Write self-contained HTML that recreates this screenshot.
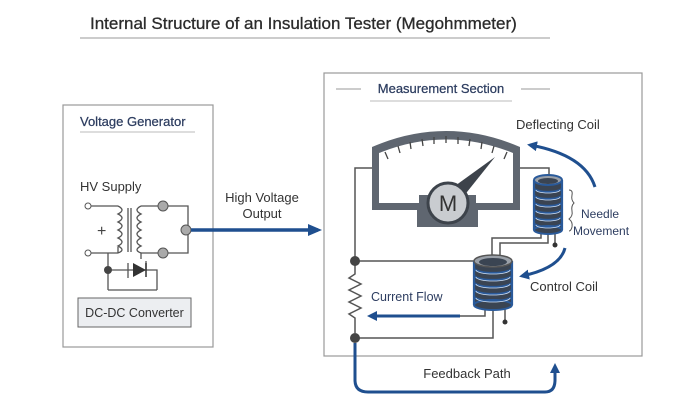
<!DOCTYPE html>
<html><head><meta charset="utf-8"><style>
html,body{margin:0;padding:0;background:#fff;}
svg{display:block;font-family:"Liberation Sans",sans-serif;}
</style></head><body>
<svg width="700" height="400" viewBox="0 0 700 400" xmlns="http://www.w3.org/2000/svg">
<defs>
<marker id="ah" markerWidth="10" markerHeight="10" refX="7" refY="5" orient="auto" markerUnits="userSpaceOnUse"><path d="M0,0 L10,5 L0,10 z" fill="#1f4f8f"/></marker>
<marker id="ah2" markerWidth="14" markerHeight="12" refX="10" refY="6" orient="auto" markerUnits="userSpaceOnUse"><path d="M0,0 L14,6 L0,12 z" fill="#1f4f8f"/></marker>
</defs>
<rect width="700" height="400" fill="#fff"/>
<text x="90" y="29" font-size="17" fill="#2b2b2b" stroke="#2b2b2b" stroke-width="0.3">Internal Structure of an Insulation Tester (Megohmmeter)</text>
<line x1="80" y1="38" x2="550" y2="38" stroke="#999" stroke-width="1"/>

<rect x="63" y="105" width="150" height="242" fill="none" stroke="#999" stroke-width="1.2"/>
<text x="80" y="126" font-size="13" fill="#2d3d60" stroke="#2d3d60" stroke-width="0.25">Voltage Generator</text>
<line x1="80" y1="132" x2="195" y2="132" stroke="#bbb"/>
<text x="80" y="191" font-size="13" fill="#333">HV Supply</text>
<g stroke="#555" stroke-width="1.3" fill="none">
<path d="M91,206 H118 M91,253 H118"/>
<path d="M118,206 q8,4 0,8 q8,4 0,8 q8,4 0,8 q8,4 0,8 q8,4 0,8 q8,4 0,7 v0"/>
<path d="M118,253 V247"/>
<line x1="128" y1="208" x2="128" y2="252"/><line x1="131" y1="208" x2="131" y2="252"/>
<path d="M141,206 q-8,4 0,8 q-8,4 0,8 q-8,4 0,8 q-8,4 0,8 q-8,4 0,8 q-8,4 0,7 v6"/>
<path d="M141,206 H163 M141,253 H163"/>
<path d="M163,206 H188 V253 H163"/>
<path d="M108,253 V290 M108,270 H150 M146,261 V270 H157 V290 M108,290 H157"/>
<line x1="128" y1="263" x2="128" y2="278"/>
</g>
<text x="97" y="236" font-size="16" fill="#444">+</text>
<path d="M133,263 L146,270 L133,277 z" fill="#333"/><line x1="146" y1="263" x2="146" y2="277" stroke="#333" stroke-width="1.5"/>
<circle cx="88" cy="206" r="3" fill="#fff" stroke="#555"/><circle cx="88" cy="253" r="3" fill="#fff" stroke="#555"/>
<circle cx="163" cy="206" r="5" fill="#aaa" stroke="#555"/><circle cx="163" cy="253" r="5" fill="#aaa" stroke="#555"/>
<circle cx="186" cy="230" r="5" fill="#aaa" stroke="#555"/>
<circle cx="108" cy="270" r="4" fill="#444"/>
<rect x="78" y="298" width="113" height="29" fill="#eceef1" stroke="#666"/>
<text x="134.5" y="317" font-size="12.5" fill="#333" text-anchor="middle">DC-DC Converter</text>

<line x1="191" y1="230" x2="318" y2="230" stroke="#1f4f8f" stroke-width="3.5" marker-end="url(#ah2)"/>
<text x="262" y="202" font-size="13" fill="#333" text-anchor="middle">High Voltage</text>
<text x="262" y="218" font-size="13" fill="#333" text-anchor="middle">Output</text>

<rect x="324" y="73" width="318" height="283" fill="none" stroke="#999" stroke-width="1.2"/>
<line x1="336" y1="89" x2="361" y2="89" stroke="#999"/>
<line x1="521" y1="89" x2="550" y2="89" stroke="#999"/>
<text x="441" y="93" font-size="13" fill="#2d3d60" text-anchor="middle" stroke="#2d3d60" stroke-width="0.25">Measurement Section</text>
<line x1="370" y1="101" x2="512" y2="101" stroke="#bbb"/>

<g stroke="#555" stroke-width="1.5" fill="none">
<path d="M372,168 H355 V261"/>
<path d="M520,168 H549 V177"/>
<path d="M355,261 H474"/>
<path d="M355,338 H493 V307"/>
<path d="M541,232 V238 H492 V258 M548,232 V243 H500 V258"/>
<path d="M460,316 H485 V307"/>
<path d="M355,261 v13 l-6,4 l12,6 l-12,6 l12,6 l-12,6 l12,6 l-12,6 l6,4 v15"/>
<path d="M555,232 V245 M505,307 V322"/>
</g>
<circle cx="555" cy="245" r="2.5" fill="#333"/><circle cx="505" cy="322" r="2.5" fill="#333"/>
<circle cx="355" cy="261" r="5" fill="#444"/><circle cx="355" cy="338" r="5" fill="#444"/>

<rect x="417" y="200" width="61" height="27" fill="#5f6670"/>
<path d="M372,147 Q446,115 520,147 V210 H478 V200 H417 V210 H372 z" fill="#5f6670"/>
<path d="M379,153 Q446,126 513,153 V203 H476 V195 H419 V203 H379 z" fill="#fff"/>
<g stroke="#444" stroke-width="1.3">
<line x1="385" y1="152" x2="388" y2="159"/><line x1="398" y1="146" x2="400" y2="153"/><line x1="410" y1="142" x2="411" y2="149"/>
<line x1="422" y1="139" x2="423" y2="146"/><line x1="434" y1="137" x2="434" y2="144"/><line x1="446" y1="136" x2="446" y2="143"/>
<line x1="458" y1="137" x2="458" y2="144"/><line x1="470" y1="139" x2="469" y2="146"/><line x1="482" y1="142" x2="481" y2="149"/>
<line x1="494" y1="146" x2="492" y2="153"/><line x1="507" y1="152" x2="504" y2="159"/>
</g>
<path d="M441,196 L495,157 L455,207 z" fill="#3d434b"/>
<circle cx="448" cy="203" r="20" fill="#c9ccd0" stroke="#3d434b" stroke-width="3"/>
<text x="448" y="211" font-size="22" fill="#333" text-anchor="middle">M</text>

<g>
<rect x="534" y="180" width="28" height="50" fill="#3a4452"/>
<ellipse cx="548" cy="230" rx="14" ry="4" fill="#3a4452" stroke="#2a5a9a" stroke-width="2"/>
<g fill="none" stroke="#2a5a9a" stroke-width="2.2">
<path d="M534,188 a14,4 0 0 0 28,0"/><path d="M534,195 a14,4 0 0 0 28,0"/><path d="M534,202 a14,4 0 0 0 28,0"/>
<path d="M534,209 a14,4 0 0 0 28,0"/><path d="M534,216 a14,4 0 0 0 28,0"/><path d="M534,223 a14,4 0 0 0 28,0"/>
<line x1="534" y1="180" x2="534" y2="230"/><line x1="562" y1="180" x2="562" y2="230"/>
</g>
<g fill="none" stroke="#cfe0f5" stroke-width="0.8">
<path d="M536,190 a12,3 0 0 0 24,0"/><path d="M536,197 a12,3 0 0 0 24,0"/><path d="M536,204 a12,3 0 0 0 24,0"/>
<path d="M536,211 a12,3 0 0 0 24,0"/><path d="M536,218 a12,3 0 0 0 24,0"/><path d="M536,225 a12,3 0 0 0 24,0"/>
</g>
<ellipse cx="548" cy="180" rx="14" ry="5" fill="#9aa0a8" stroke="#2a5a9a" stroke-width="2"/>
<ellipse cx="548" cy="181" rx="10" ry="3" fill="#3a4452"/>
</g>
<g>
<rect x="474" y="261" width="38" height="44" fill="#3a4452"/>
<ellipse cx="493" cy="305" rx="19" ry="5" fill="#3a4452" stroke="#2a5a9a" stroke-width="2"/>
<g fill="none" stroke="#2a5a9a" stroke-width="2.2">
<path d="M474,268 a19,5 0 0 0 38,0"/><path d="M474,275 a19,5 0 0 0 38,0"/><path d="M474,282 a19,5 0 0 0 38,0"/>
<path d="M474,289 a19,5 0 0 0 38,0"/><path d="M474,296 a19,5 0 0 0 38,0"/>
<line x1="474" y1="261" x2="474" y2="305"/><line x1="512" y1="261" x2="512" y2="305"/>
</g>
<g fill="none" stroke="#cfe0f5" stroke-width="0.8">
<path d="M476,270 a17,4 0 0 0 34,0"/><path d="M476,277 a17,4 0 0 0 34,0"/><path d="M476,284 a17,4 0 0 0 34,0"/>
<path d="M476,291 a17,4 0 0 0 34,0"/><path d="M476,298 a17,4 0 0 0 34,0"/>
</g>
<ellipse cx="493" cy="261" rx="19" ry="6" fill="#9aa0a8" stroke="#555" stroke-width="1.5"/>
<ellipse cx="493" cy="262" rx="14" ry="4" fill="#3a4452"/>
</g>

<path d="M595,187 Q585,155 530,145" fill="none" stroke="#1f4f8f" stroke-width="3" marker-end="url(#ah)"/>
<path d="M565,248 Q560,268 522,276" fill="none" stroke="#1f4f8f" stroke-width="3" marker-end="url(#ah)"/>
<line x1="460" y1="316" x2="370" y2="316" stroke="#1f4f8f" stroke-width="3" marker-end="url(#ah)"/>
<path d="M355,343 V380 Q355,392 368,392 H545 Q555,392 555,380 V366" fill="none" stroke="#1f4f8f" stroke-width="3" marker-end="url(#ah)"/>
<path d="M569,190 q4,0 3,5 q-1,5 2,8 q-3,3 -2,8 q1,5 -3,8 q4,3 3,8 q-1,4 -3,4" fill="none" stroke="#555" stroke-width="1"/>

<text x="516" y="129" font-size="13" fill="#333">Deflecting Coil</text>
<text x="581" y="218" font-size="12" fill="#2d3d60">Needle</text>
<text x="573" y="235" font-size="12" fill="#2d3d60">Movement</text>
<text x="530" y="291" font-size="13" fill="#333">Control Coil</text>
<text x="371" y="301" font-size="12.5" fill="#2d3d60">Current Flow</text>
<text x="467" y="378" font-size="13" fill="#333" text-anchor="middle">Feedback Path</text>
</svg>
</body></html>
